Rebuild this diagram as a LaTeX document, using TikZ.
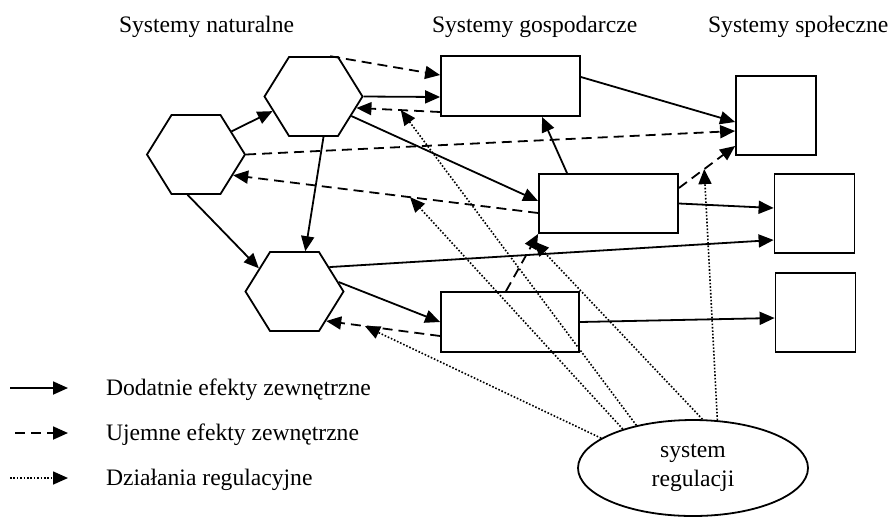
\documentclass[tikz,border=0pt]{standalone}
\usepackage{fontspec}
\setmainfont{Liberation Serif}
\usetikzlibrary{arrows.meta, positioning, shapes.geometric}

\begin{document}
\begin{tikzpicture}[
      x=0.5pt, y=-0.5pt,
      >={Triangle[length=7.5pt, width=6.5pt]},
      every node/.style={font=\fontsize{11.8}{14.5}\selectfont},
      hexa/.style={regular polygon, regular polygon sides=6, draw,
                   line width=0.9pt, minimum size=49pt, inner sep=0pt,
                   yscale=0.93},
      sys/.style={draw, line width=0.9pt, inner sep=0pt},
      dodat/.style={->, line width=0.9pt},
      ujem/.style={->, line width=0.9pt, dash pattern=on 5pt off 3pt},
      regul/.style={->, line width=0.8pt, dash pattern=on 0.8pt off 0.9pt},
    ]
    \useasboundingbox (0,0) rectangle (892,521);

    % naglowki kolumn
    \node[anchor=base west] (tnat) at (112,32) {Systemy naturalne};
    \node[anchor=base west] (tgos) at (425,32) {Systemy gospodarcze};
    \node[anchor=base west] (tspo) at (701,32) {Systemy społeczne};

    % systemy naturalne
    \node[hexa] (h1) at (196,154.5) {};
    \node[hexa] (h2) at (313.5,96.5) {};
    \node[hexa] (h3) at (294.5,291.5) {};

    % systemy gospodarcze
    \node[sys, minimum width=69.5pt, minimum height=30pt] (r1) at (510.5,86) {};
    \node[sys, minimum width=69.5pt, minimum height=29.5pt] (r2) at (608.5,203.5) {};
    \node[sys, minimum width=69pt, minimum height=30pt] (r3) at (510,322) {};

    % systemy spoleczne
    \node[sys, minimum width=40pt, minimum height=39.5pt] (s1) at (776,115.5) {};
    \node[sys, minimum width=40pt, minimum height=39.5pt] (s2) at (814.5,213.5) {};
    \node[sys, minimum width=40pt, minimum height=39.5pt] (s3) at (815.5,312.5) {};

    \node[ellipse, draw, line width=0.9pt, minimum width=115pt,
          minimum height=48pt, inner sep=0pt, align=center] (reg) at (693,468)
          {system\\regulacji};

    % dodatnie efekty
    \draw[dodat] (h1.35) -- (h2.-159);
    \draw[dodat] (h2.east) -- ([yshift=-5.5pt]r1.west);
    \draw[dodat] (h2.-29) -- ([yshift=1.25pt]r2.west);
    \draw[dodat] (h2.-77) -- (h3.76);
    \draw[dodat] (h1.-101) -- (h3.145);
    \draw[dodat] (h3.37) -- ([yshift=-13.25pt]s2.west);
    \draw[dodat] (h3.13) -- (r3.west);
    \draw[dodat] ([xshift=-20.75pt]r2.north) -- ([xshift=15.75pt]r1.south);
    \draw[dodat] ([yshift=4.5pt]r1.east) -- ([yshift=-3.25pt]s1.west);
    \draw[dodat] (r2.east) -- ([yshift=2.75pt]s2.west);
    \draw[dodat] (r3.east) -- ([yshift=-2.75pt]s3.west);

    % ujemne efekty
    \draw[ujem] (h2.69) -- ([yshift=5.5pt]r1.west);
    \draw[ujem] ([yshift=-13pt]r1.west) -- coordinate[pos=0.47] (u1) (h2.-16);
    \draw[ujem] (h1.east) -- ([yshift=-7.75pt]s1.west);
    \draw[ujem] ([yshift=-4.75pt]r2.west) -- coordinate[pos=0.42] (u2) (h1.-31);
    \draw[ujem] ([yshift=7.75pt]r2.east) -- coordinate[pos=0.45] (u3) ([yshift=-15.25pt]s1.west);
    \draw[ujem] ([xshift=-2pt]r3.north) -- coordinate[pos=0.87] (u4) (r2.south west);
    \draw[ujem] ([yshift=-7pt]r3.west) -- coordinate[pos=0.66] (u5) (h3.-45);

    % dzialania regulacyjne
    \draw[regul] (reg.162) -- (u5);
    \draw[regul] (reg.143) -- (u1);
    \draw[regul] (reg.151) -- (u2);
    \draw[regul] (reg.79) -- (u4);
    \draw[regul] (reg.63) -- (u3);

    % legenda
    \coordinate (l1a) at (10,388);
    \coordinate (l1b) at (68,388);
    \coordinate (l2a) at (15,433);
    \coordinate (l2b) at (68,433);
    \coordinate (l3a) at (10,478);
    \coordinate (l3b) at (68,478);
    \draw[dodat] (l1a) -- (l1b);
    \draw[ujem] (l2a) -- (l2b);
    \draw[regul] (l3a) -- (l3b);
    \node[anchor=base west] (t1) at (99,395) {Dodatnie efekty zewnętrzne};
    \node[anchor=base west] (t2) at (99,440) {Ujemne efekty zewnętrzne};
    \node[anchor=base west] (t3) at (99,485) {Działania regulacyjne};
  \end{tikzpicture}
\end{document}
